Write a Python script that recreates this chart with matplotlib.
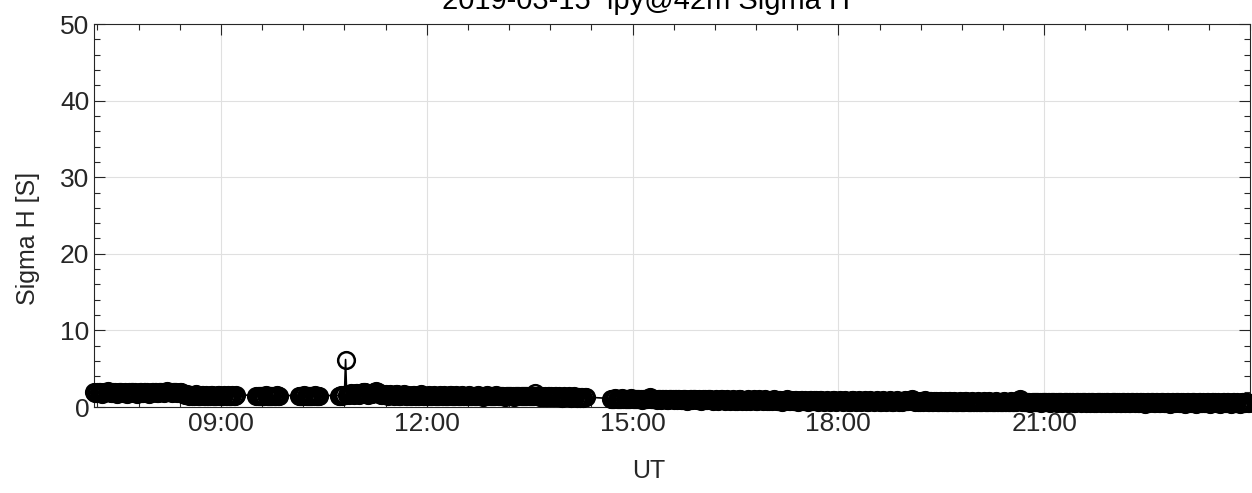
"""
2019-03-15 lpy@42m Sigma H  (MATLAB-like line + circle markers)
"""
import matplotlib
matplotlib.use('Agg')
import matplotlib.pyplot as plt
from matplotlib.ticker import FixedLocator, MultipleLocator
import numpy as np

plt.rcParams['font.family'] = ['Liberation Sans', 'DejaVu Sans']

title = '2019-03-15  lpy@42m Sigma H'

# segment start times (UT, "HH:MM"), 1 min sampling inside each segment
seg_starts = ['07:09', '09:31', '10:08', '10:43', '14:41']
step_min = 1

seg1 = [1.9, 1.8, 1.8, 1.9, 2.0, 1.9, 1.8, 1.7, 1.8, 1.9, 1.9, 2.0, 2.1, 2.0, 1.9, 1.8, 1.8, 1.9, 1.9, 1.8,
        1.7, 1.8, 1.9, 2.0, 1.9, 1.8, 1.8, 1.9, 1.8, 1.7, 1.8, 1.9, 1.9, 2.0, 1.9, 1.8, 1.9, 1.8, 1.7, 1.8,
        1.9, 1.9, 1.8, 1.8, 1.9, 2.0, 1.9, 1.8, 1.7, 1.8, 1.8, 1.9, 2.0, 1.9, 1.9, 1.8, 1.8, 1.9, 2.0, 2.0,
        1.9, 1.8, 1.9, 2.0, 2.1, 2.0, 1.9, 1.9, 1.8, 1.9, 2.0, 2.0, 1.9, 1.8, 1.8, 1.9, 1.9, 1.8, 1.7, 1.7,
        1.6, 1.7, 1.6, 1.5, 1.6, 1.6, 1.5, 1.5, 1.6, 1.7, 1.6, 1.5, 1.4, 1.5, 1.6, 1.6, 1.5, 1.5, 1.6, 1.5,
        1.4, 1.5, 1.6, 1.6, 1.5, 1.5, 1.4, 1.5, 1.6, 1.6, 1.5, 1.4, 1.5, 1.5, 1.6, 1.5, 1.5, 1.6, 1.5, 1.4,
        1.5, 1.6, 1.5, 1.5, 1.6]
seg2 = [1.5, 1.5, 1.4, 1.4, 1.5, 1.5, 1.4, 1.5, 1.6, 1.5, 1.5, 1.4, 1.5, 1.5, 1.4, 1.4, 1.5, 1.5, 1.6, 1.5,
        1.5]
seg3 = [1.5, 1.4, 1.4, 1.5, 1.5, 1.6, 1.5, 1.4, 1.5, 1.5, 1.4, 1.4, 1.5, 1.5, 1.6, 1.5, 1.4, 1.5, 1.5]
seg4 = [1.5, 1.5, 1.6, 1.5, 1.6, 1.6, 6.2, 1.6, 1.7, 1.6, 1.7, 1.8, 1.7, 1.6, 1.7, 1.8, 1.8, 1.7, 1.6, 1.7,
        1.8, 1.9, 2.0, 1.9, 1.8, 1.7, 1.6, 1.7, 1.8, 1.7, 1.8, 1.9, 2.0, 2.1, 1.9, 1.8, 1.7, 1.6, 1.6, 1.7,
        1.6, 1.7, 1.6, 1.5, 1.6, 1.7, 1.6, 1.6, 1.5, 1.6, 1.7, 1.7, 1.6, 1.5, 1.5, 1.6, 1.6, 1.7, 1.6, 1.5,
        1.5, 1.6, 1.5, 1.4, 1.5, 1.6, 1.6, 1.5, 1.5, 1.4, 1.5, 1.6, 1.7, 1.6, 1.5, 1.5, 1.4, 1.5, 1.5, 1.6,
        1.5, 1.4, 1.5, 1.6, 1.5, 1.5, 1.4, 1.4, 1.5, 1.6, 1.5, 1.5, 1.6, 1.5, 1.4, 1.5, 1.5, 1.6, 1.6, 1.5,
        1.4, 1.5, 1.5, 1.6, 1.5, 1.4, 1.4, 1.5, 1.6, 1.5, 1.5, 1.4, 1.5, 1.5, 1.6, 1.5, 1.4, 1.5, 1.5, 1.4,
        1.4, 1.5, 1.6, 1.5, 1.5, 1.4, 1.3, 1.4, 1.5, 1.5, 1.6, 1.5, 1.4, 1.4, 1.5, 1.5, 1.4, 1.5, 1.6, 1.5,
        1.4, 1.4, 1.5, 1.5, 1.4, 1.3, 1.4, 1.5, 1.5, 1.4, 1.4, 1.5, 1.4, 1.3, 1.4, 1.5, 1.5, 1.4, 1.4, 1.5,
        1.5, 1.4, 1.4, 1.5, 1.4, 1.4, 1.5, 1.4, 1.4, 1.5, 1.4, 1.4, 1.8, 1.5, 1.4, 1.4, 1.3, 1.4, 1.4, 1.3,
        1.4, 1.3, 1.3, 1.4, 1.4, 1.3, 1.4, 1.3, 1.3, 1.4, 1.4, 1.3, 1.3, 1.4, 1.3, 1.2, 1.3, 1.4, 1.3, 1.3,
        1.3, 1.4, 1.3, 1.2, 1.3, 1.3, 1.4, 1.3, 1.2, 1.3, 1.3, 1.2, 1.3, 1.3, 1.2, 1.3, 1.3]
seg5 = [1.1, 1.1, 1.0, 1.1, 1.2, 1.1, 1.0, 1.0, 1.1, 1.1, 1.2, 1.1, 1.0, 1.1, 1.1, 1.0, 1.0, 1.1, 1.2, 1.1,
        1.0, 1.1, 1.1, 1.0, 1.0, 1.1, 1.0, 0.9, 1.0, 1.1, 1.1, 1.0, 1.1, 1.2, 1.3, 1.1, 1.0, 1.0, 1.1, 1.0,
        0.9, 1.0, 1.1, 1.0, 0.9, 1.0, 1.0, 1.1, 1.0, 0.9, 0.9, 1.0, 1.1, 1.1, 1.0, 0.9, 1.0, 1.0, 0.9, 1.0,
        1.0, 0.9, 0.9, 1.0, 1.1, 1.0, 0.9, 0.8, 0.9, 1.0, 1.0, 0.9, 1.0, 1.1, 1.0, 0.9, 0.9, 1.0, 0.9, 0.8,
        0.9, 1.0, 1.0, 0.9, 0.9, 1.0, 1.1, 1.0, 0.9, 0.8, 0.9, 0.9, 1.0, 0.9, 0.8, 0.9, 1.0, 1.0, 0.9, 0.9,
        0.8, 0.9, 1.0, 0.9, 0.8, 0.9, 0.9, 1.0, 0.9, 0.8, 0.8, 0.9, 1.0, 1.0, 0.9, 0.8, 0.9, 0.9, 0.8, 0.9,
        1.0, 0.9, 0.8, 0.9, 0.9, 1.0, 0.9, 0.8, 0.8, 0.9, 1.0, 0.9, 0.9, 0.8, 0.9, 1.0, 0.9, 0.8, 0.8, 0.9,
        0.9, 0.8, 0.9, 1.0, 0.9, 0.8, 0.8, 0.9, 0.9, 0.8, 0.7, 0.8, 0.9, 0.9, 1.0, 0.9, 0.8, 0.8, 0.9, 0.8,
        0.8, 0.9, 0.9, 0.8, 0.7, 0.8, 0.9, 0.9, 0.8, 0.8, 0.9, 0.8, 0.7, 0.8, 0.9, 0.9, 0.8, 0.8, 0.9, 0.9,
        0.8, 0.7, 0.8, 0.9, 0.9, 0.8, 0.7, 0.8, 0.8, 0.9, 0.8, 0.8, 0.7, 0.8, 0.9, 0.9, 0.8, 0.7, 0.8, 0.8,
        0.9, 0.8, 0.8, 0.7, 0.8, 0.9, 0.8, 0.8, 0.7, 0.7, 0.8, 0.9, 0.9, 0.8, 0.7, 0.8, 0.8, 0.9, 0.8, 0.7,
        0.8, 0.8, 0.9, 0.8, 0.7, 0.7, 0.8, 0.9, 0.8, 0.8, 0.7, 0.8, 0.8, 0.9, 0.8, 0.7, 0.7, 0.8, 0.9, 0.8,
        0.8, 0.7, 0.8, 0.8, 0.9, 0.8, 0.7, 0.7, 0.8, 0.8, 0.9, 0.8, 0.7, 0.8, 0.8, 0.7, 0.8, 0.9, 0.8, 0.8,
        0.8, 0.9, 0.9, 1.0, 0.9, 0.8, 0.7, 0.8, 0.8, 0.7, 0.7, 0.8, 0.8, 0.7, 0.8, 0.9, 0.8, 0.7, 0.7, 0.8,
        0.8, 0.7, 0.7, 0.8, 0.8, 0.7, 0.6, 0.7, 0.8, 0.8, 0.7, 0.7, 0.8, 0.7, 0.6, 0.7, 0.8, 0.8, 0.7, 0.7,
        0.8, 0.7, 0.6, 0.7, 0.7, 0.8, 0.7, 0.7, 0.6, 0.7, 0.8, 0.8, 0.7, 0.6, 0.7, 0.7, 0.8, 0.7, 0.6, 0.7,
        0.7, 0.8, 0.7, 0.6, 0.7, 0.7, 0.8, 0.7, 0.6, 0.6, 0.7, 0.8, 0.7, 0.7, 0.6, 0.7, 0.7, 0.8, 0.7, 0.6,
        0.7, 0.7, 0.6, 0.7, 0.8, 0.7, 0.6, 0.6, 0.7, 0.7, 0.8, 0.7, 0.6, 0.7, 0.7, 0.8, 0.8, 0.9, 1.0, 0.8,
        0.7, 0.7, 0.6, 0.6, 0.7, 0.7, 0.6, 0.5, 0.6, 0.7, 0.7, 0.6, 0.6, 0.7, 0.7, 0.6, 0.5, 0.6, 0.7, 0.6,
        0.6, 0.7, 0.7, 0.6, 0.5, 0.6, 0.6, 0.7, 0.6, 0.6, 0.5, 0.6, 0.7, 0.7, 0.6, 0.5, 0.6, 0.6, 0.7, 0.6,
        0.5, 0.6, 0.6, 0.7, 0.6, 0.5, 0.5, 0.6, 0.7, 0.6, 0.6, 0.5, 0.6, 0.6, 0.7, 0.6, 0.5, 0.6, 0.6, 0.5,
        0.6, 0.7, 0.6, 0.5, 0.5, 0.6, 0.6, 0.7, 0.6, 0.5, 0.6, 0.6, 0.5, 0.6, 0.7, 0.6, 0.5, 0.5, 0.6, 0.6,
        0.7, 0.6, 0.5, 0.6, 0.6, 0.5, 0.5, 0.6, 0.7, 0.6, 0.5, 0.6, 0.6, 0.5, 0.5, 0.6, 0.7, 0.6, 0.5, 0.6,
        0.6, 0.5, 0.5, 0.6, 0.7, 0.6, 0.5, 0.4, 0.5, 0.6, 0.6, 0.5, 0.6, 0.7, 0.6, 0.5, 0.5, 0.6, 0.6, 0.5,
        0.5, 0.6, 0.7, 0.6, 0.5, 0.5, 0.6, 0.6, 0.5, 0.4, 0.5, 0.6, 0.6, 0.5, 0.6, 0.7, 0.6, 0.5, 0.5, 0.6,
        0.6, 0.5, 0.4, 0.5, 0.6, 0.6, 0.5, 0.5, 0.6, 0.7, 0.6, 0.5, 0.4, 0.5, 0.6, 0.6, 0.5, 0.5, 0.6, 0.5,
        0.5, 0.6, 0.6, 0.5, 0.4, 0.5, 0.6, 0.7, 0.6, 0.5, 0.5, 0.6, 0.5, 0.4, 0.5, 0.6, 0.6, 0.5, 0.5, 0.6,
        0.6, 0.5, 0.4, 0.5, 0.6, 0.6, 0.5, 0.5, 0.6, 0.5, 0.4, 0.5, 0.6, 0.6, 0.5, 0.5, 0.6, 0.5, 0.5]
segments = [seg1, seg2, seg3, seg4, seg5]

xtick_hours = [9, 12, 15, 18, 21]
xtick_labels = ['09:00', '12:00', '15:00', '18:00', '21:00']


def hhmm(s):
    h, m = s.split(':')
    return int(h) + int(m) / 60.0


# build time axis (hours UT) for each segment
t_list, v_list = [], []
for start, vals in zip(seg_starts, segments):
    t0 = hhmm(start)
    t_list.append(t0 + np.arange(len(vals)) * step_min / 60.0)
    v_list.append(np.array(vals))
t = np.concatenate(t_list)
v = np.concatenate(v_list)

dark = '#262626'
fig = plt.figure(figsize=(12.52, 4.93), dpi=100)
ax = fig.add_axes([0.0751, 0.1744, 0.9233, 0.7769])

ax.plot(t, v, '-', color='k', linewidth=1.2, marker='o', markersize=12,
        markerfacecolor='none', markeredgecolor='k', markeredgewidth=1.8,
        clip_on=False, zorder=3)

ax.set_xlim(t[0], 24.0)
ax.set_ylim(0, 50)

ax.xaxis.set_major_locator(FixedLocator(xtick_hours))
ax.set_xticklabels(xtick_labels)
ax.xaxis.set_minor_locator(FixedLocator(np.arange(7.2, 24.01, 0.6)))
ax.yaxis.set_major_locator(MultipleLocator(10))
ax.yaxis.set_minor_locator(MultipleLocator(2))

ax.tick_params(which='both', direction='in', top=True, right=True,
               color=dark, labelcolor=dark, labelsize=19)
ax.tick_params(which='major', length=8, width=0.8)
ax.tick_params(which='minor', length=4.5, width=0.8)
for sp in ax.spines.values():
    sp.set_color(dark)
    sp.set_linewidth(0.8)

ax.grid(True, which='major', color='#e0e0e0', linewidth=0.8, zorder=0)
ax.set_axisbelow(True)

ax.set_xlabel('UT', fontsize=18, color=dark)
ax.set_ylabel('Sigma H [S]', fontsize=18, color=dark)
ax.xaxis.set_label_coords(0.48, -0.136)
ax.yaxis.set_label_coords(-0.047, 0.439)
ax.set_title(title, fontsize=21, color='k', pad=11, x=0.4775)

fig.savefig('out.png', dpi=100)
